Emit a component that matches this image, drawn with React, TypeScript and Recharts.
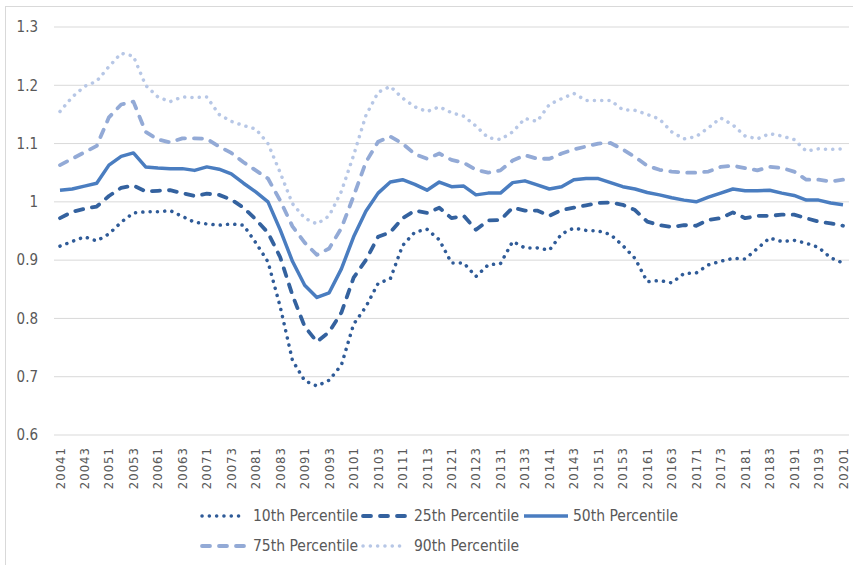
import React from 'react';
import { LineChart, Line, XAxis, YAxis, CartesianGrid, Legend } from 'recharts';

const quarters = [
  '20041', '20042', '20043', '20044', '20051', '20052', '20053', '20054',
  '20061', '20062', '20063', '20064', '20071', '20072', '20073', '20074',
  '20081', '20082', '20083', '20084', '20091', '20092', '20093', '20094',
  '20101', '20102', '20103', '20104', '20111', '20112', '20113', '20114',
  '20121', '20122', '20123', '20124', '20131', '20132', '20133', '20134',
  '20141', '20142', '20143', '20144', '20151', '20152', '20153', '20154',
  '20161', '20162', '20163', '20164', '20171', '20172', '20173', '20174',
  '20181', '20182', '20183', '20184', '20191', '20192', '20193', '20194',
  '20201',
];

const p10 = [
  0.924, 0.932, 0.94, 0.933, 0.945, 0.965, 0.981, 0.983, 0.983, 0.985, 0.975, 0.965, 0.962,
  0.96, 0.962, 0.96, 0.93, 0.897, 0.82, 0.728, 0.693, 0.684, 0.694, 0.72, 0.79, 0.82, 0.86,
  0.868, 0.925, 0.948, 0.953, 0.935, 0.895, 0.895, 0.872, 0.892, 0.894, 0.932, 0.921, 0.921,
  0.917, 0.945, 0.955, 0.951, 0.95, 0.944, 0.925, 0.903, 0.863, 0.865, 0.861, 0.877, 0.878,
  0.892, 0.898, 0.903, 0.902, 0.92, 0.938, 0.932, 0.934, 0.929, 0.922, 0.904, 0.895,
];

const p25 = [
  0.972, 0.983, 0.988, 0.992, 1.01, 1.024, 1.028, 1.018, 1.019, 1.02, 1.015, 1.01, 1.014,
  1.012, 1.004, 0.99, 0.97, 0.947, 0.905, 0.84, 0.786, 0.76, 0.777, 0.81, 0.87, 0.9, 0.94,
  0.948, 0.972, 0.985, 0.981, 0.99, 0.972, 0.976, 0.952, 0.968, 0.969, 0.99, 0.985, 0.985,
  0.976, 0.986, 0.99, 0.994, 0.998, 0.999, 0.995, 0.986, 0.966, 0.96, 0.957, 0.96, 0.959,
  0.969, 0.972, 0.982, 0.972, 0.976, 0.976, 0.978, 0.978, 0.972, 0.966, 0.963, 0.959,
];

const p50 = [
  1.02, 1.022, 1.027, 1.032, 1.063, 1.078, 1.084, 1.06, 1.058, 1.057, 1.057, 1.054, 1.06,
  1.056, 1.048, 1.032, 1.017, 1.0, 0.952, 0.898, 0.857, 0.836, 0.844, 0.885, 0.94, 0.984,
  1.015, 1.034, 1.038, 1.03, 1.02, 1.034, 1.026, 1.027, 1.012, 1.015, 1.015, 1.033, 1.036,
  1.029, 1.022, 1.026, 1.038, 1.04, 1.04, 1.033, 1.026, 1.022, 1.016, 1.012, 1.007, 1.003,
  1.0, 1.008, 1.015, 1.022, 1.019, 1.019, 1.02, 1.015, 1.011, 1.003, 1.003, 0.998, 0.995,
];

const p75 = [
  1.063, 1.074, 1.085, 1.096, 1.145, 1.167, 1.172, 1.12, 1.107, 1.102, 1.109, 1.109, 1.108,
  1.095, 1.084, 1.068, 1.054, 1.04, 1.002, 0.958, 0.93, 0.909, 0.92, 0.955, 1.01, 1.068,
  1.103, 1.112, 1.1, 1.082, 1.074, 1.083, 1.072, 1.067, 1.055, 1.05, 1.054, 1.071, 1.08,
  1.074, 1.074, 1.083, 1.09, 1.095, 1.1, 1.101, 1.09, 1.077, 1.062, 1.055, 1.052, 1.05,
  1.05, 1.052, 1.06, 1.062, 1.058, 1.054, 1.06, 1.058, 1.052, 1.038, 1.038, 1.035, 1.038,
];

const p90 = [
  1.155, 1.18, 1.198, 1.207, 1.232, 1.255, 1.25, 1.2, 1.18, 1.172, 1.18, 1.179, 1.18, 1.15,
  1.138, 1.131, 1.125, 1.1, 1.05, 0.997, 0.972, 0.962, 0.976, 1.018, 1.08, 1.148, 1.188,
  1.198, 1.178, 1.163, 1.155, 1.163, 1.153, 1.147, 1.13, 1.11, 1.107, 1.12, 1.143, 1.138,
  1.167, 1.177, 1.186, 1.174, 1.174, 1.174, 1.158, 1.157, 1.15, 1.142, 1.12, 1.108, 1.112,
  1.127, 1.144, 1.132, 1.113, 1.108, 1.117, 1.113, 1.107, 1.087, 1.091, 1.09, 1.091,
];

const yTicks = [0.6, 0.7, 0.8, 0.9, 1, 1.1, 1.2, 1.3];

const data = quarters.map((q, i) => ({
  q,
  p10: p10[i],
  p25: p25[i],
  p50: p50[i],
  p75: p75[i],
  p90: p90[i],
}));

const series = [
  { key: 'p10', name: '10th Percentile', color: '#2F5B98', width: 3.5, dash: '0.1 7.2' },
  { key: 'p25', name: '25th Percentile', color: '#34629F', width: 3.8, dash: '8 9' },
  { key: 'p50', name: '50th Percentile', color: '#4A7DC0', width: 3.5, dash: undefined },
  { key: 'p75', name: '75th Percentile', color: '#93AAD6', width: 3.8, dash: '8 9' },
  { key: 'p90', name: '90th Percentile', color: '#B7C7E6', width: 3.5, dash: '0.1 7.2' },
];

const FONT = '"Liberation Sans Narrow", "DejaVu Sans Condensed", Roboto, sans-serif';

const XTick = (props: any) => {
  const { x, y, payload } = props;
  return (
    <text
      transform={`translate(${x},${y}) rotate(-90)`}
      textAnchor='end'
      dominantBaseline='central'
      fontSize={13}
      fill='#595959'
      fontFamily={FONT}
      letterSpacing={1}
    >
      {payload.value}
    </text>
  );
};

const LegendContent = () => {
  const item = (s: any, i: number, last: boolean) => (
    <div
      key={s.key}
      style={{ display: 'flex', alignItems: 'center', width: last ? undefined : 161, flex: 'none' }}
    >
      <svg width={46} height={10}>
        <line
          x1={2}
          y1={5}
          x2={s.dash ? 44 : 48}
          y2={5}
          stroke={s.color}
          strokeWidth={s.width}
          strokeDasharray={s.dash}
          strokeLinecap={s.dash ? 'round' : 'butt'}
        />
      </svg>
      <span style={{ marginLeft: s.dash ? 7 : 5, whiteSpace: 'nowrap' }}>{s.name}</span>
    </div>
  );
  return (
    <div style={{ fontFamily: FONT, fontSize: 15.5, color: '#595959', height: 60 }}>
      <div style={{ display: 'flex', height: 30, alignItems: 'center', marginTop: 6 }}>
        {series.slice(0, 3).map((s, i) => item(s, i, i === 2))}
      </div>
      <div style={{ display: 'flex', height: 30, alignItems: 'center' }}>
        {series.slice(3).map((s, i) => item(s, i, i === 1))}
      </div>
    </div>
  );
};

export default function App() {
  return (
    <div style={{ position: 'absolute', left: 0, top: 0, width: 856, height: 565, background: '#fff' }}>
      <div
        style={{
          position: 'absolute',
          left: 5,
          top: 6,
          width: 847,
          height: 570,
          borderLeft: '1px solid #d9d9d9',
          borderTop: '1px solid #d9d9d9',
        }}
      />
      <LineChart
        width={856}
        height={565}
        data={data}
        margin={{ top: 27, right: 7, bottom: 10, left: 0 }}
        style={{ position: 'absolute', left: 0, top: 0 }}
      >
        <CartesianGrid vertical={false} stroke='#d9d9d9' strokeWidth={1} />
        <XAxis
          dataKey='q'
          interval={1}
          tick={<XTick />}
          tickLine={false}
          axisLine={false}
          tickMargin={6}
          height={60}
          padding={{ left: 6, right: 6 }}
        />
        <YAxis
          domain={[0.6, 1.3]}
          ticks={yTicks}
          width={54}
          tickLine={false}
          axisLine={false}
          tickSize={8}
          tickMargin={8}
          tickFormatter={(v: number) => String(v)}
          tick={{ fill: '#595959', fontSize: 15, fontFamily: FONT }}
        />
        <Legend
          verticalAlign='bottom'
          content={<LegendContent />}
          wrapperStyle={{ left: 200, width: 540, height: 60 }}
        />
        {series.map((s) => (
          <Line
            key={s.key}
            type='linear'
            dataKey={s.key}
            name={s.name}
            stroke={s.color}
            strokeWidth={s.width}
            strokeDasharray={s.dash}
            strokeLinecap={s.dash ? 'round' : 'butt'}
            strokeLinejoin='round'
            dot={false}
            activeDot={false}
            isAnimationActive={false}
          />
        ))}
      </LineChart>
    </div>
  );
}
